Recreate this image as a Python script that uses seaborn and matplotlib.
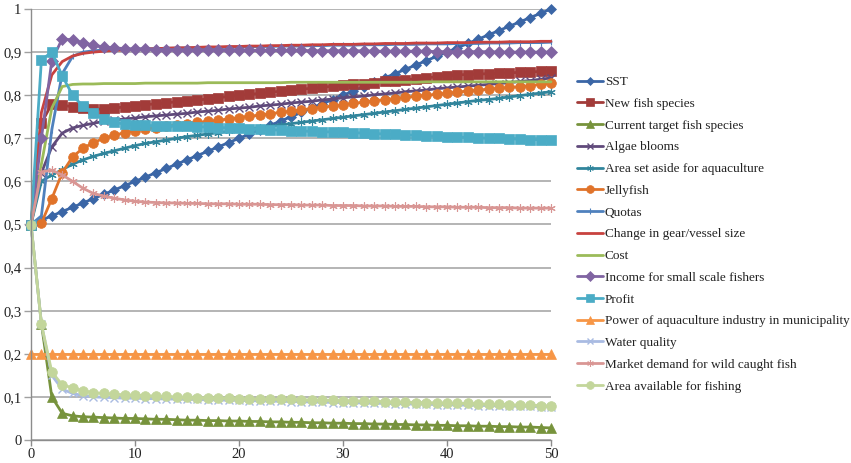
import numpy as np
import pandas as pd
import matplotlib
matplotlib.use("Agg")
import matplotlib.pyplot as plt
import seaborn as sns
from matplotlib.ticker import FuncFormatter, MultipleLocator

# ---------------- data ----------------
steps = list(range(51))

sst = [0.50, 0.51, 0.52, 0.53, 0.54, 0.55, 0.56, 0.57, 0.58, 0.59,
       0.60, 0.61, 0.62, 0.63, 0.64, 0.65, 0.66, 0.67, 0.68, 0.69,
       0.70, 0.71, 0.72, 0.73, 0.74, 0.75, 0.76, 0.77, 0.78, 0.79,
       0.80, 0.81, 0.82, 0.83, 0.84, 0.85, 0.86, 0.87, 0.88, 0.89,
       0.90, 0.91, 0.92, 0.93, 0.94, 0.95, 0.96, 0.97, 0.98, 0.99, 1.00]

new_fish = [0.500, 0.735, 0.780, 0.777, 0.773, 0.770, 0.768, 0.768, 0.770, 0.773,
            0.776, 0.778, 0.780, 0.782, 0.785, 0.787, 0.789, 0.791, 0.794, 0.797,
            0.800, 0.802, 0.804, 0.807, 0.809, 0.811, 0.814, 0.816, 0.818, 0.821,
            0.823, 0.825, 0.827, 0.829, 0.832, 0.834, 0.836, 0.838, 0.840, 0.843,
            0.845, 0.847, 0.848, 0.849, 0.850, 0.851, 0.852, 0.853, 0.854, 0.855, 0.856]

current_target = [0.500, 0.270, 0.100, 0.062, 0.056, 0.054, 0.053, 0.052, 0.051, 0.050,
                  0.050, 0.049, 0.048, 0.048, 0.047, 0.046, 0.046, 0.045, 0.045, 0.044,
                  0.044, 0.043, 0.043, 0.042, 0.042, 0.041, 0.041, 0.040, 0.040, 0.039,
                  0.039, 0.038, 0.038, 0.037, 0.037, 0.036, 0.036, 0.035, 0.035, 0.034,
                  0.034, 0.033, 0.033, 0.032, 0.032, 0.031, 0.031, 0.030, 0.030, 0.029, 0.028]

algae = [0.500, 0.620, 0.680, 0.712, 0.724, 0.730, 0.735, 0.739, 0.742, 0.745,
         0.747, 0.750, 0.752, 0.754, 0.756, 0.758, 0.761, 0.763, 0.765, 0.768,
         0.770, 0.772, 0.775, 0.777, 0.779, 0.782, 0.784, 0.786, 0.789, 0.791,
         0.794, 0.796, 0.798, 0.801, 0.803, 0.805, 0.808, 0.810, 0.812, 0.815,
         0.817, 0.819, 0.821, 0.823, 0.825, 0.827, 0.829, 0.832, 0.834, 0.837, 0.840]

aquaculture_area = [0.500, 0.600, 0.615, 0.627, 0.640, 0.650, 0.658, 0.665, 0.671, 0.677,
                    0.683, 0.688, 0.692, 0.696, 0.700, 0.704, 0.707, 0.710, 0.713, 0.716,
                    0.719, 0.722, 0.725, 0.728, 0.731, 0.734, 0.737, 0.740, 0.743, 0.746,
                    0.749, 0.752, 0.755, 0.758, 0.761, 0.764, 0.767, 0.770, 0.773, 0.776,
                    0.779, 0.782, 0.785, 0.788, 0.790, 0.793, 0.796, 0.799, 0.802, 0.805, 0.808]

jellyfish = [0.500, 0.503, 0.560, 0.620, 0.657, 0.677, 0.690, 0.700, 0.707, 0.713,
             0.718, 0.722, 0.725, 0.728, 0.731, 0.734, 0.737, 0.739, 0.742, 0.745,
             0.748, 0.751, 0.754, 0.757, 0.760, 0.763, 0.766, 0.769, 0.772, 0.775,
             0.778, 0.781, 0.784, 0.787, 0.790, 0.792, 0.795, 0.797, 0.800, 0.802,
             0.805, 0.807, 0.810, 0.812, 0.814, 0.816, 0.818, 0.820, 0.822, 0.825, 0.828]

quotas = [0.500, 0.520, 0.720, 0.850, 0.890, 0.900, 0.903, 0.905, 0.906, 0.907,
          0.907, 0.908, 0.908, 0.909, 0.909, 0.910, 0.910, 0.910, 0.911, 0.911,
          0.912, 0.912, 0.913, 0.913, 0.914, 0.914, 0.914, 0.915, 0.915, 0.916,
          0.916, 0.916, 0.917, 0.917, 0.917, 0.918, 0.918, 0.918, 0.919, 0.919,
          0.919, 0.920, 0.920, 0.920, 0.921, 0.921, 0.921, 0.922, 0.922, 0.922, 0.923]

gear_change = [0.500, 0.760, 0.847, 0.878, 0.891, 0.897, 0.900, 0.902, 0.904, 0.905,
               0.906, 0.907, 0.908, 0.909, 0.910, 0.910, 0.911, 0.912, 0.912, 0.913,
               0.913, 0.914, 0.914, 0.915, 0.915, 0.916, 0.916, 0.917, 0.917, 0.918,
               0.918, 0.918, 0.919, 0.919, 0.920, 0.920, 0.920, 0.921, 0.921, 0.921,
               0.922, 0.922, 0.922, 0.923, 0.923, 0.923, 0.924, 0.924, 0.924, 0.925, 0.925]

cost = [0.500, 0.640, 0.770, 0.820, 0.825, 0.826, 0.826, 0.827, 0.827, 0.827,
        0.827, 0.828, 0.828, 0.828, 0.828, 0.828, 0.828, 0.829, 0.829, 0.829,
        0.829, 0.829, 0.829, 0.829, 0.829, 0.830, 0.830, 0.830, 0.830, 0.830,
        0.830, 0.830, 0.830, 0.830, 0.830, 0.830, 0.830, 0.830, 0.831, 0.831,
        0.831, 0.831, 0.831, 0.831, 0.831, 0.831, 0.831, 0.831, 0.831, 0.831, 0.831]

income_small = [0.500, 0.700, 0.880, 0.931, 0.928, 0.922, 0.916, 0.912, 0.910, 0.908,
                0.907, 0.907, 0.906, 0.906, 0.906, 0.905, 0.905, 0.905, 0.905, 0.905,
                0.905, 0.904, 0.904, 0.904, 0.904, 0.904, 0.904, 0.903, 0.903, 0.903,
                0.903, 0.903, 0.903, 0.902, 0.902, 0.902, 0.902, 0.902, 0.902, 0.901,
                0.901, 0.901, 0.901, 0.901, 0.901, 0.900, 0.900, 0.900, 0.900, 0.900, 0.900]

profit = [0.500, 0.882, 0.900, 0.845, 0.800, 0.774, 0.758, 0.744, 0.737, 0.733,
          0.731, 0.730, 0.729, 0.729, 0.728, 0.728, 0.727, 0.726, 0.725, 0.724,
          0.723, 0.722, 0.721, 0.720, 0.719, 0.718, 0.717, 0.716, 0.715, 0.715,
          0.714, 0.713, 0.712, 0.711, 0.710, 0.709, 0.708, 0.707, 0.706, 0.705,
          0.704, 0.703, 0.702, 0.701, 0.700, 0.700, 0.699, 0.698, 0.697, 0.697, 0.696]

aquaculture_power = [0.2, 0.2, 0.2, 0.2, 0.2, 0.2, 0.2, 0.2, 0.2, 0.2,
                     0.2, 0.2, 0.2, 0.2, 0.2, 0.2, 0.2, 0.2, 0.2, 0.2,
                     0.2, 0.2, 0.2, 0.2, 0.2, 0.2, 0.2, 0.2, 0.2, 0.2,
                     0.2, 0.2, 0.2, 0.2, 0.2, 0.2, 0.2, 0.2, 0.2, 0.2,
                     0.2, 0.2, 0.2, 0.2, 0.2, 0.2, 0.2, 0.2, 0.2, 0.2, 0.2]

water_quality = [0.500, 0.270, 0.150, 0.118, 0.108, 0.103, 0.100, 0.099, 0.098, 0.097,
                 0.097, 0.096, 0.096, 0.095, 0.095, 0.094, 0.094, 0.093, 0.093, 0.092,
                 0.092, 0.091, 0.091, 0.090, 0.090, 0.089, 0.089, 0.088, 0.088, 0.087,
                 0.087, 0.086, 0.086, 0.085, 0.085, 0.084, 0.084, 0.083, 0.083, 0.082,
                 0.082, 0.081, 0.081, 0.080, 0.080, 0.079, 0.079, 0.078, 0.078, 0.077, 0.077]

market_demand = [0.500, 0.622, 0.626, 0.615, 0.600, 0.584, 0.572, 0.566, 0.561, 0.557,
                 0.554, 0.552, 0.551, 0.550, 0.550, 0.549, 0.549, 0.548, 0.548, 0.548,
                 0.547, 0.547, 0.547, 0.546, 0.546, 0.546, 0.545, 0.545, 0.545, 0.544,
                 0.544, 0.544, 0.543, 0.543, 0.543, 0.542, 0.542, 0.542, 0.541, 0.541,
                 0.541, 0.540, 0.540, 0.540, 0.539, 0.539, 0.539, 0.538, 0.538, 0.538, 0.538]

fishing_area = [0.500, 0.269, 0.158, 0.128, 0.121, 0.114, 0.110, 0.108, 0.106, 0.105,
                0.104, 0.103, 0.102, 0.101, 0.100, 0.099, 0.098, 0.098, 0.097, 0.097,
                0.096, 0.096, 0.095, 0.095, 0.094, 0.094, 0.093, 0.093, 0.092, 0.092,
                0.091, 0.091, 0.090, 0.090, 0.089, 0.088, 0.088, 0.087, 0.087, 0.086,
                0.086, 0.085, 0.085, 0.084, 0.083, 0.083, 0.082, 0.081, 0.081, 0.080, 0.079]

series_names = ["SST", "New fish species", "Current target fish species", "Algae blooms",
                "Area set aside for aquaculture", "Jellyfish", "Quotas",
                "Change in gear/vessel size", "Cost", "Income for small scale fishers",
                "Profit", "Power of aquaculture industry in municipality", "Water quality",
                "Market demand for wild caught fish", "Area available for fishing"]
series_values = [sst, new_fish, current_target, algae, aquaculture_area, jellyfish, quotas,
                 gear_change, cost, income_small, profit, aquaculture_power, water_quality,
                 market_demand, fishing_area]

# ---------------- styles ----------------
ASTER = (6, 2, 0)
styles = [
    dict(color="#3B66A6", marker="D", ms=5.0, mew=0.5),
    dict(color="#A23B39", marker="s", ms=7.0, mew=0.5),
    dict(color="#77933C", marker="^", ms=6.5, mew=0.5),
    dict(color="#604A7B", marker="x", ms=5.5, mew=1.0),
    dict(color="#31859C", marker=ASTER, ms=6.0, mew=0.8),
    dict(color="#E0732A", marker="o", ms=7.0, mew=0.5),
    dict(color="#4F81BD", marker="|", ms=5.0, mew=0.8),
    dict(color="#C8423F", marker=None, ms=0, mew=0),
    dict(color="#9BBB59", marker=None, ms=0, mew=0),
    dict(color="#8064A2", marker="D", ms=6.0, mew=0.5),
    dict(color="#4BACC6", marker="s", ms=7.0, mew=0.5),
    dict(color="#F79646", marker="^", ms=6.5, mew=0.5),
    dict(color="#A9BBE2", marker="x", ms=5.5, mew=1.0),
    dict(color="#D99694", marker=ASTER, ms=6.0, mew=0.8),
    dict(color="#C3D69B", marker="o", ms=7.0, mew=0.5),
]

sns.set_style("white")
plt.rcParams["font.family"] = ["Liberation Serif", "DejaVu Serif"]

W, H = 851, 463
fig = plt.figure(figsize=(W / 100, H / 100), dpi=100)
ax = fig.add_axes([31 / W, (H - 440) / H, (551 - 31) / W, (440 - 9) / H])

handles = []
for name, vals, st in zip(series_names, series_values, styles):
    df = pd.DataFrame({"step": steps, "value": vals})
    kw = dict(color=st["color"], linewidth=2.0, label=name, legend=False, ax=ax)
    if st["marker"] is not None:
        kw.update(marker=st["marker"], markersize=st["ms"], markeredgewidth=st["mew"],
                  markeredgecolor=st["color"], markerfacecolor=st["color"])
    sns.lineplot(data=df, x="step", y="value", **kw)
    line = ax.get_lines()[-1]
    line.set_clip_on(False)
    handles.append(line)

ax.set_xlim(0, 50)
ax.set_ylim(0, 1)
ax.xaxis.set_major_locator(MultipleLocator(10))
ax.yaxis.set_major_locator(MultipleLocator(0.1))


def comma_fmt(v, pos):
    s = f"{v:.1f}".replace(".", ",")
    if s.endswith(",0"):
        s = s[:-2]
    return s


ax.yaxis.set_major_formatter(FuncFormatter(comma_fmt))
ax.set_xlabel("")
ax.set_ylabel("")
ax.grid(axis="y", color="#A0A0A0", linewidth=1.1)
ax.grid(axis="x", visible=False)
ax.set_axisbelow(True)
for side in ["top", "right"]:
    ax.spines[side].set_visible(False)
for side in ["left", "bottom"]:
    ax.spines[side].set_color("#8C8C8C")
    ax.spines[side].set_linewidth(1.0)
ax.tick_params(axis="x", length=4, width=1, color="#8C8C8C", labelsize=10.5, pad=2,
               direction="out", bottom=True, labelcolor="#222222")
ax.tick_params(axis="y", length=5, width=1, color="#A0A0A0", labelsize=10.5, pad=2,
               direction="out", left=True, labelcolor="#222222")

fs = 9.5
leg = fig.legend(handles, series_names, loc="upper left",
                 bbox_to_anchor=(577 / W, 1 - 76 / H), bbox_transform=fig.transFigure,
                 frameon=False, fontsize=fs, handlelength=2.0, handletextpad=0.1,
                 labelspacing=0.72, borderpad=0, borderaxespad=0, markerscale=0.8)
for t in leg.get_texts():
    t.set_color("#222222")

fig.savefig("out.png", dpi=100)
